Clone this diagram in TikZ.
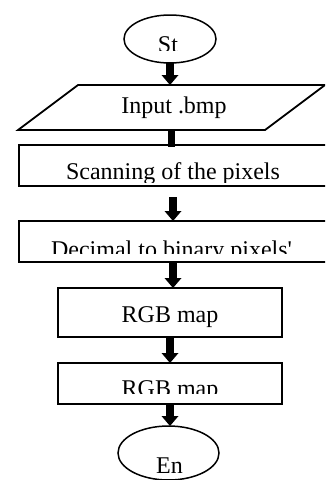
\documentclass[tikz,border=0pt]{standalone}
\usepackage{fontspec}
\setmainfont{Liberation Serif}
\usepackage{tikz}
\usetikzlibrary{arrows.meta}
\usetikzlibrary{shapes.geometric}

\tikzset{
  box/.style={draw, line width=1.8pt, inner sep=0pt, outer sep=0pt},
  term/.style={draw, ellipse, line width=1.5pt, inner sep=0pt, outer sep=0pt},
  lbl/.style={anchor=base, inner sep=0pt, font=\fontsize{24}{28}\selectfont},
  flow/.style={line width=7.5pt, -{Triangle[width=17pt,length=10pt,line width=0pt]}},
}

\begin{document}
\begin{tikzpicture}[x=1pt,y=-1pt]
\clip (0,0) rectangle (325,480);
%\draw[help lines, color=gray!30, dashed] (0,0) grid[step=20] (325,480);

\node[term, minimum width=92pt, minimum height=48pt] (st) at (170,39) {};

\node[inner sep=0pt, outer sep=0pt, minimum width=187pt, minimum height=45pt] (inp) at (171.5,107.5) {};
\draw[line width=1.8pt] ([xshift=-60pt]inp.south west) -- (inp.south east) -- ([xshift=60pt]inp.north east) -- (inp.north west) -- cycle;

\node[box, minimum width=308pt, minimum height=41pt] (scan) at (173,165.5) {};
\node[box, minimum width=308pt, minimum height=41pt] (dec) at (173,241.5) {};
\node[box, minimum width=224pt, minimum height=49pt] (rgbA) at (170,312.5) {};
\node[box, minimum width=224pt, minimum height=41pt] (rgbB) at (170,383.5) {};

\node[term, minimum width=101pt, minimum height=54pt] (en) at (168.5,453) {};

% texts, cut at the bottom
\begin{scope}
\clip (0,0) rectangle (325,50);
\node[lbl] (tst) at (168,52) {St};
\end{scope}

\node[lbl] (tinp) at (174,113) {Input .bmp};

\begin{scope}
\clip (0,146) rectangle (325,182);
\node[lbl] (tscan) at (173,179.5) {Scanning of the pixels};
\end{scope}

\begin{scope}
\clip (0,222) rectangle (325,253);
\node[lbl] (tdec) at (171.5,257) {Decimal to binary pixels\textquotesingle};
\end{scope}

\node[lbl] (trgbA) at (170,322) {RGB map};

\begin{scope}
\clip (0,364) rectangle (325,393);
\node[lbl] (trgbB) at (170,396) {RGB map};
\end{scope}

\begin{scope}
\clip (0,430) rectangle (325,474);
\node[lbl] (ten) at (169.5,473) {En};
\end{scope}

\draw[flow] (st.south) -- (st.south |- inp.north);
\draw[line width=7.5pt] (inp.south) -- ([yshift=-2pt]inp.south |- scan.north);
\draw[flow, shorten <=11pt] (scan.south) -- (scan.south |- dec.north);
\draw[flow] (dec.south) -- (dec.south |- rgbA.north);
\draw[flow] (rgbA.south) -- (rgbA.south |- rgbB.north);
\draw[flow] (rgbB.south) -- (rgbB.south |- en.north);

\end{tikzpicture}
\end{document}
